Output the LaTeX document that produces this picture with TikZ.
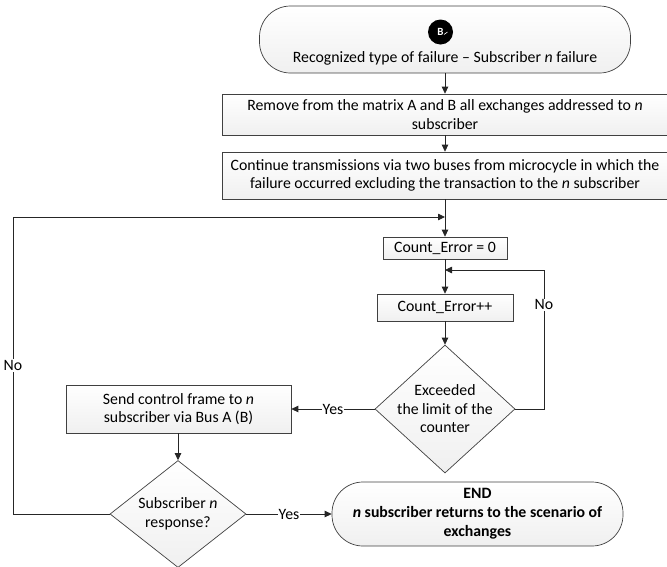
\documentclass[tikz,border=0pt]{standalone}
\usepackage{fontspec}
\setmainfont{Carlito}
\usetikzlibrary{shapes.geometric,arrows.meta}
\begin{document}
\begin{tikzpicture}[x=1pt,y=-1pt,
  font=\fontsize{15.8}{18.5}\selectfont,
  line/.style={draw=black!85, line width=0.8pt},
  arr/.style={line, -{Triangle[length=7pt,width=6.5pt]}},
  shaded/.style={draw=black!75, line width=0.7pt, top color=white, bottom color=black!6},
  procbox/.style={shaded, inner sep=0pt, align=center},
  term/.style={procbox, rounded corners=31pt},
  decision/.style={diamond, shaded, inner sep=0pt},
  tag/.style={fill=white, inner sep=1pt}
]
\useasboundingbox (0,0) rectangle (667,566);
\clip (0,0) rectangle (667,566);

% start terminal with its marker
\node[term, minimum width=371, minimum height=67] (start) at (445,39.5) {};
\node[circle, fill=black, minimum size=25, inner sep=0pt, text=white,
      font=\fontsize{11}{11}\selectfont\bfseries] (bmark) at (440.5,32) {B};
\draw[white, line width=0.6pt] (bmark.center) ++(3.5,2.5) -- ++(3.5,-2.5);
\node (starttext) at (445,58) {Recognized type of failure -- Subscriber \textit{n} failure};

% processing steps
\node[procbox, minimum width=446, minimum height=41] (rem) at (445,114.5)
  {Remove from the matrix A and B all exchanges addressed to \textit{n}\\subscriber};
\node[procbox, minimum width=446, minimum height=47] (cont) at (445,175.5)
  {Continue transmissions via two buses from microcycle in which the\\failure occurred excluding the transaction to the \textit{n} subscriber};
\node[procbox, minimum width=124, minimum height=22] (cnt0) at (445,248) {Count\_Error = 0};
\node[procbox, minimum width=136, minimum height=27] (cntpp) at (445,307.5) {Count\_Error++};

\node[decision, minimum width=140, minimum height=128,
      label={[align=center]center:Exceeded\\the limit of the\\counter}] (d1) at (445,409) {};
\node[procbox, minimum width=225, minimum height=48] (send) at (178.5,409)
  {Send control frame to \textit{n}\\subscriber via Bus A (B)};
\node[decision, minimum width=136, minimum height=107,
      label={[align=center]center:Subscriber \textit{n}\\response?}] (d2) at (178,514) {};
\node[term, minimum width=291, minimum height=64, font=\fontsize{15.8}{19}\selectfont\bfseries] (finish) at (477.5,514)
  {END\\\textit{n} subscriber returns to the scenario of\\exchanges};

% routing points
\coordinate (loopin) at (445,217);
\coordinate (rejoin) at (445,270);
\coordinate (leftrail) at (13,0);
\coordinate (rightrail) at (544,0);

% connectors
\draw[arr] (start.south) -- (rem.north);
\draw[arr] (rem.south) -- (cont.north);
\draw[arr] (cont.south) -- (cnt0.north);
\draw[arr] (cnt0.south) -- (cntpp.north);
\draw[arr] (cntpp.south) -- (d1.north);
\draw[arr] (d1.east) -- (d1.east -| rightrail)
  -- node[tag, pos=0.75] {No} (rightrail |- rejoin) -- (rejoin);
\draw[arr] (d1.west) -- node[tag] {Yes} (send.east);
\draw[arr] (send.south -| d2.north) -- (d2.north);
\draw[arr] (d2.east) -- node[tag] {Yes} (finish.west);
\draw[arr] (d2.west) -- (d2.west -| leftrail)
  -- node[tag, pos=0.5] {No} (leftrail |- loopin) -- (loopin);
\end{tikzpicture}
\end{document}
